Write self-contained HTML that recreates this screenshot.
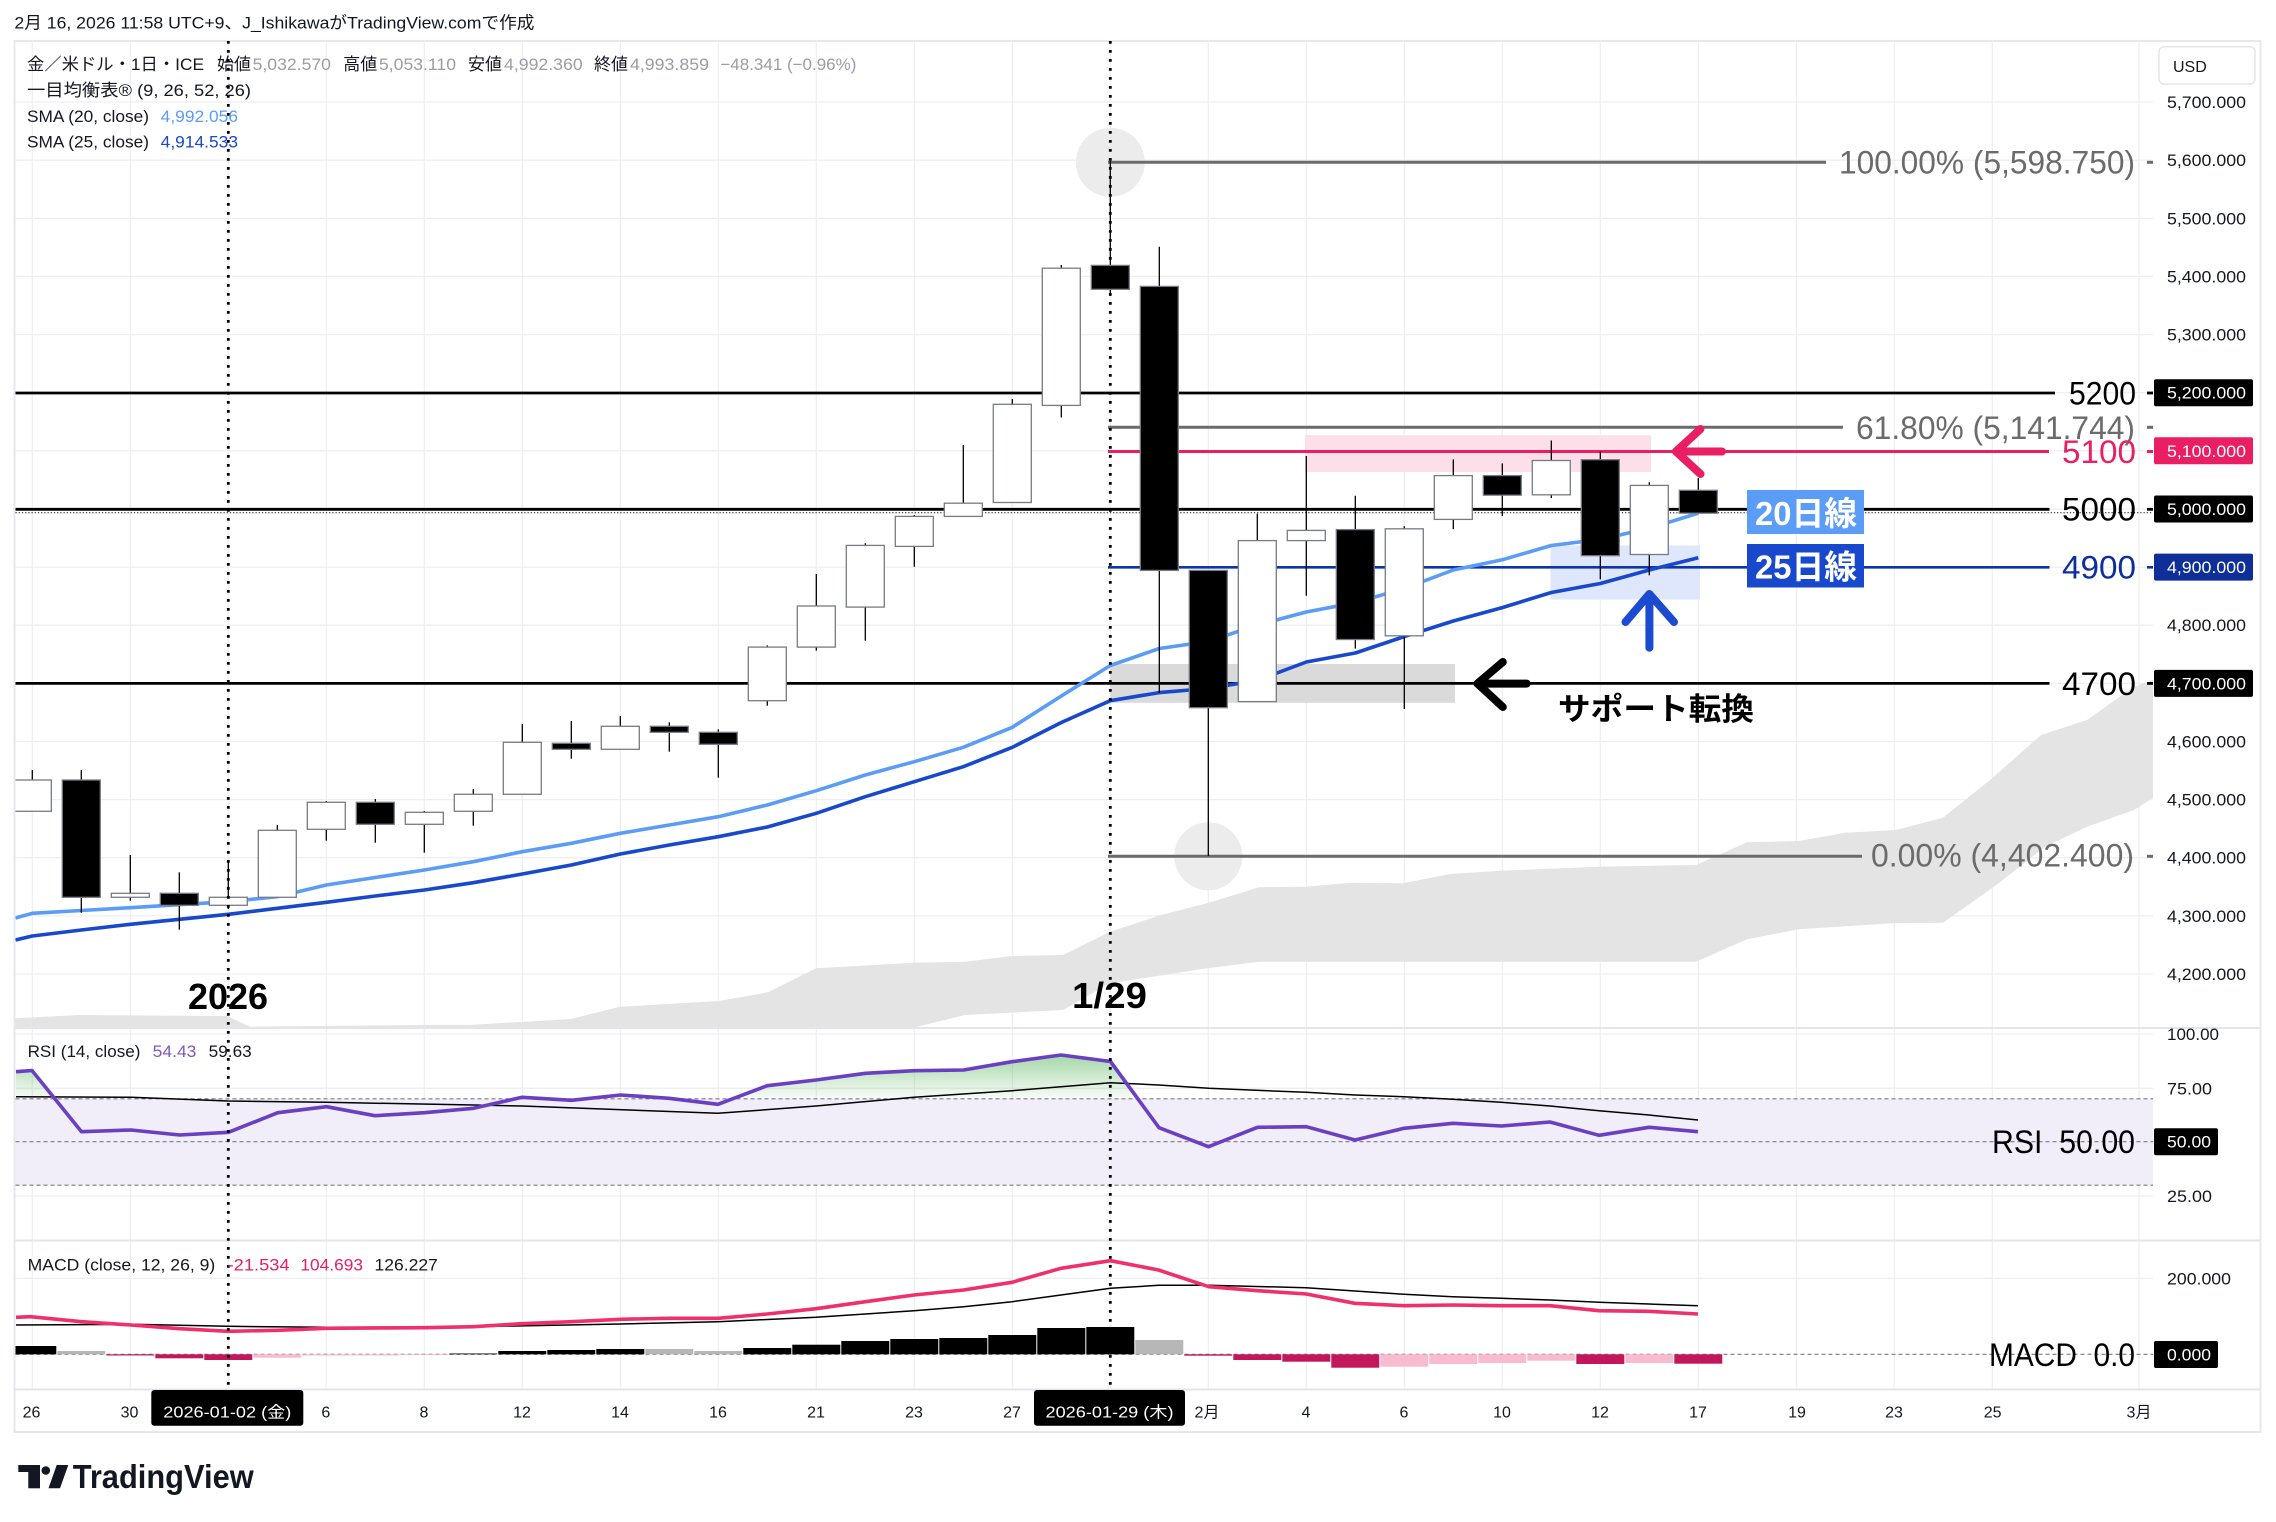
<!DOCTYPE html>
<html><head><meta charset="utf-8"><style>
html,body{margin:0;padding:0;background:#fff;}
svg{display:block;}
text{font-family:"Liberation Sans","Noto Sans CJK JP",sans-serif;}
</style></head><body>
<svg width="2276" height="1522" viewBox="0 0 2276 1522" xmlns="http://www.w3.org/2000/svg">
<defs>
<clipPath id="cm"><rect x="15.5" y="41" width="2137.5" height="986.5"/></clipPath>
<clipPath id="cr"><rect x="15.5" y="1028" width="2137.5" height="212"/></clipPath>
<clipPath id="cg"><rect x="15.5" y="1030" width="2137.5" height="68.8"/></clipPath>
<clipPath id="cd"><rect x="15.5" y="1241" width="2137.5" height="148"/></clipPath>
<linearGradient id="gg" gradientUnits="userSpaceOnUse" x1="0" y1="1050" x2="0" y2="1099">
<stop offset="0" stop-color="#4caf50" stop-opacity="0.55"/><stop offset="1" stop-color="#4caf50" stop-opacity="0.04"/>
</linearGradient>
</defs>
<rect width="2276" height="1522" fill="#fff"/>
<!-- header -->
<text x="14.4" y="28.5" font-size="17" fill="#131722" textLength="520" lengthAdjust="spacingAndGlyphs">2月 16, 2026 11:58 UTC+9、J_IshikawaがTradingView.comで作成</text>
<!-- frame -->
<rect x="14.5" y="41" width="2246" height="1391" fill="none" stroke="#e6e8ee" stroke-width="2"/>
<!-- vertical gridlines -->
<g stroke="#efeff2" stroke-width="1.3">
<line x1="32.3" y1="41" x2="32.3" y2="1389"/><line x1="130.3" y1="41" x2="130.3" y2="1389"/><line x1="228.3" y1="41" x2="228.3" y2="1389"/><line x1="326.3" y1="41" x2="326.3" y2="1389"/><line x1="424.3" y1="41" x2="424.3" y2="1389"/><line x1="522.3" y1="41" x2="522.3" y2="1389"/><line x1="620.3" y1="41" x2="620.3" y2="1389"/><line x1="718.3" y1="41" x2="718.3" y2="1389"/><line x1="816.3" y1="41" x2="816.3" y2="1389"/><line x1="914.3" y1="41" x2="914.3" y2="1389"/><line x1="1012.3" y1="41" x2="1012.3" y2="1389"/><line x1="1110.3" y1="41" x2="1110.3" y2="1389"/><line x1="1208.3" y1="41" x2="1208.3" y2="1389"/><line x1="1306.3" y1="41" x2="1306.3" y2="1389"/><line x1="1404.3" y1="41" x2="1404.3" y2="1389"/><line x1="1502.3" y1="41" x2="1502.3" y2="1389"/><line x1="1600.3" y1="41" x2="1600.3" y2="1389"/><line x1="1698.3" y1="41" x2="1698.3" y2="1389"/><line x1="1796.3" y1="41" x2="1796.3" y2="1389"/><line x1="1894.3" y1="41" x2="1894.3" y2="1389"/><line x1="1992.3" y1="41" x2="1992.3" y2="1389"/><line x1="2139" y1="41" x2="2139" y2="1389"/>
</g>
<!-- horizontal gridlines main -->
<g stroke="#efeff2" stroke-width="1.3">
<line x1="15.5" y1="102" x2="2153" y2="102"/><line x1="15.5" y1="160.2" x2="2153" y2="160.2"/><line x1="15.5" y1="218.3" x2="2153" y2="218.3"/><line x1="15.5" y1="276.4" x2="2153" y2="276.4"/><line x1="15.5" y1="334.6" x2="2153" y2="334.6"/><line x1="15.5" y1="392.7" x2="2153" y2="392.7"/><line x1="15.5" y1="450.8" x2="2153" y2="450.8"/><line x1="15.5" y1="509" x2="2153" y2="509"/><line x1="15.5" y1="567.1" x2="2153" y2="567.1"/><line x1="15.5" y1="625.2" x2="2153" y2="625.2"/><line x1="15.5" y1="683.4" x2="2153" y2="683.4"/><line x1="15.5" y1="741.5" x2="2153" y2="741.5"/><line x1="15.5" y1="799.6" x2="2153" y2="799.6"/><line x1="15.5" y1="857.7" x2="2153" y2="857.7"/><line x1="15.5" y1="915.9" x2="2153" y2="915.9"/><line x1="15.5" y1="974" x2="2153" y2="974"/>
<line x1="15.5" y1="1034" x2="2153" y2="1034"/><line x1="15.5" y1="1088.3" x2="2153" y2="1088.3"/><line x1="15.5" y1="1196" x2="2153" y2="1196"/>
<line x1="15.5" y1="1278.3" x2="2153" y2="1278.3"/>
</g>
<!-- pane separators -->
<g stroke="#e3e5ea" stroke-width="2">
<line x1="15.5" y1="1028" x2="2260" y2="1028"/><line x1="15.5" y1="1240.5" x2="2260" y2="1240.5"/><line x1="15.5" y1="1389.5" x2="2260" y2="1389.5"/>
</g>

<g clip-path="url(#cm)">
<!-- cloud -->
<polygon fill="#e4e4e4" points="15.5,1018.3 79,1015 227,1016 250,1026.7 423.5,1025 469,1025 571,1019 620,1006.7 719,1001 768,992.3 816,968.3 914,962.7 965,961.7 1012,956 1063,955 1110,931.7 1161,915 1207,903.3 1259,887.3 1305,886.7 1352,882.7 1403,883.3 1450,874 1501,870.7 1598.5,866.7 1696,865 1747,842.3 1799,841 1845,832.7 1896,830 1943,817.7 1990,780 2041,735 2087,720 2134,686.7 2153,680 2153,798 2134,810 2087,826.7 2045,846.7 1994,886.7 1943,922.7 1892,923.3 1799,929.3 1747,939.3 1696,961.7 1259,961.7 1207,968.3 1110,983.3 1063,1010 965,1015 914,1027.5 15.5,1027.5"/>
<!-- zones -->
<rect x="1305" y="435.2" width="346" height="36.8" fill="#fcdfe8"/>
<rect x="1550.5" y="545.5" width="149.5" height="54" fill="#dfe7fc"/>
<rect x="1110" y="664" width="345" height="38.8" fill="#dadada"/>
<!-- fib anchor circles -->
<circle cx="1110.3" cy="162.3" r="34.5" fill="#ececec"/>
<circle cx="1208.3" cy="856.3" r="34" fill="#ececec"/>
<!-- fib lines -->
<g stroke="#6b6b6b" stroke-width="3">
<line x1="1108" y1="162.3" x2="1826" y2="162.3"/><line x1="2147" y1="162.3" x2="2153" y2="162.3"/>
<line x1="1108" y1="427.3" x2="1843" y2="427.3"/><line x1="2147" y1="427.3" x2="2153" y2="427.3"/>
<line x1="1108" y1="856.3" x2="1862" y2="856.3"/><line x1="2147" y1="856.3" x2="2153" y2="856.3"/>
</g>
<!-- horizontal price lines -->
<g stroke="#000" stroke-width="2.8">
<line x1="15.5" y1="393" x2="2055" y2="393"/><line x1="2147" y1="393" x2="2153" y2="393"/>
<line x1="15.5" y1="509.3" x2="2049.5" y2="509.3"/><line x1="2147" y1="509.3" x2="2153" y2="509.3"/>
<line x1="15.5" y1="683.4" x2="2049.5" y2="683.4"/><line x1="2147" y1="683.4" x2="2153" y2="683.4"/>
</g>
<line x1="1108" y1="451.5" x2="2049" y2="451.5" stroke="#e91e63" stroke-width="3"/><line x1="2147" y1="451.5" x2="2153" y2="451.5" stroke="#e91e63" stroke-width="3"/>
<line x1="1108" y1="567.3" x2="2049.5" y2="567.3" stroke="#0d35a6" stroke-width="2.6"/><line x1="2147" y1="567.3" x2="2153" y2="567.3" stroke="#0d35a6" stroke-width="2.6"/>
<!-- current price dotted -->
<line x1="15.5" y1="512.8" x2="2153" y2="512.8" stroke="#000" stroke-width="1" stroke-dasharray="1.2 2"/>
<!-- SMA lines -->
<polyline fill="none" stroke="#5b9cf6" stroke-width="3.6" stroke-linejoin="round" points="15.5,918 32.3,913.3 81.3,910.5 130.3,907.7 179.3,904.7 228.3,901.7 277.3,896.7 326.3,885 375.3,877.5 424.3,870 473.3,861.7 522.3,851.7 571.3,843.3 620.3,833.3 669.3,825 718.3,816.7 767.3,805 816.3,790.7 865.3,775 914.3,761.7 963.3,747.3 1012.3,727.3 1061.3,696 1110.3,665.5 1159.3,648.5 1208.3,641.5 1257.3,625 1306.3,612 1355.3,602.7 1404.3,588.4 1453.3,570 1502.3,559.8 1551.3,545.5 1600.3,539.4 1649.3,528.3 1698.3,513.2"/>
<polyline fill="none" stroke="#1848cc" stroke-width="3.6" stroke-linejoin="round" points="15.5,940 32.3,936 81.3,930 130.3,924.3 179.3,919.3 228.3,914.3 277.3,908.3 326.3,902.3 375.3,896 424.3,890 473.3,882.7 522.3,874 571.3,865 620.3,854 669.3,845 718.3,836.7 767.3,827 816.3,813.3 865.3,796.7 914.3,781.7 963.3,766.7 1012.3,747.3 1061.3,722.5 1110.3,700.7 1159.3,692.6 1208.3,688.5 1257.3,680.4 1306.3,662 1355.3,653 1404.3,636.6 1453.3,621 1502.3,607.6 1551.3,592.5 1600.3,583.5 1649.3,570 1698.3,557.8"/>
<!-- wicks -->
<g stroke="#000" stroke-width="1.3">
<line x1="32.3" y1="770" x2="32.3" y2="811.3"/><line x1="81.3" y1="770" x2="81.3" y2="912.7"/><line x1="130.3" y1="855" x2="130.3" y2="900.7"/><line x1="179.3" y1="872.3" x2="179.3" y2="929.7"/><line x1="228.3" y1="860" x2="228.3" y2="909"/><line x1="277.3" y1="825" x2="277.3" y2="897.3"/><line x1="326.3" y1="801" x2="326.3" y2="840.7"/><line x1="375.3" y1="799" x2="375.3" y2="842.7"/><line x1="424.3" y1="811" x2="424.3" y2="852.7"/><line x1="473.3" y1="789" x2="473.3" y2="825.7"/><line x1="522.3" y1="724" x2="522.3" y2="794.3"/><line x1="571.3" y1="721" x2="571.3" y2="758.7"/><line x1="620.3" y1="716" x2="620.3" y2="749.3"/><line x1="669.3" y1="722.3" x2="669.3" y2="751.7"/><line x1="718.3" y1="729.3" x2="718.3" y2="777.7"/><line x1="767.3" y1="645.4" x2="767.3" y2="705.7"/><line x1="816.3" y1="574" x2="816.3" y2="650.7"/><line x1="865.3" y1="543.2" x2="865.3" y2="640.7"/><line x1="914.3" y1="515" x2="914.3" y2="566.8"/><line x1="963.3" y1="445" x2="963.3" y2="516.4"/><line x1="1012.3" y1="399" x2="1012.3" y2="502.5"/><line x1="1061.3" y1="265" x2="1061.3" y2="417.5"/><line x1="1110.3" y1="161" x2="1110.3" y2="296"/><line x1="1159.3" y1="246.8" x2="1159.3" y2="693"/><line x1="1208.3" y1="570" x2="1208.3" y2="856"/><line x1="1257.3" y1="513.6" x2="1257.3" y2="701.6"/><line x1="1306.3" y1="456" x2="1306.3" y2="595.8"/><line x1="1355.3" y1="495.7" x2="1355.3" y2="648.5"/><line x1="1404.3" y1="526.3" x2="1404.3" y2="709"/><line x1="1453.3" y1="459.3" x2="1453.3" y2="529.2"/><line x1="1502.3" y1="463.4" x2="1502.3" y2="516.1"/><line x1="1551.3" y1="440.5" x2="1551.3" y2="498.1"/><line x1="1600.3" y1="451.5" x2="1600.3" y2="579.4"/><line x1="1649.3" y1="482.2" x2="1649.3" y2="575.3"/><line x1="1698.3" y1="478" x2="1698.3" y2="513.2"/>
</g>
<!-- bodies -->
<g stroke="#787b86" stroke-width="1.3">
<rect x="13.3" y="780" width="38" height="31.3" fill="#fff"/>
<rect x="62.3" y="780" width="38" height="117.3" fill="#000"/>
<rect x="111.3" y="893.3" width="38" height="4" fill="#fff"/>
<rect x="160.3" y="893.3" width="38" height="12" fill="#000"/>
<rect x="209.3" y="897.3" width="38" height="8" fill="#fff"/>
<rect x="258.3" y="830.3" width="38" height="67" fill="#fff"/>
<rect x="307.3" y="802.3" width="38" height="27" fill="#fff"/>
<rect x="356.3" y="802.3" width="38" height="22" fill="#000"/>
<rect x="405.3" y="812.3" width="38" height="12" fill="#fff"/>
<rect x="454.3" y="794.3" width="38" height="17" fill="#fff"/>
<rect x="503.3" y="742.3" width="38" height="52" fill="#fff"/>
<rect x="552.3" y="743.3" width="38" height="6" fill="#000"/>
<rect x="601.3" y="726.3" width="38" height="23" fill="#fff"/>
<rect x="650.3" y="726.3" width="38" height="6" fill="#000"/>
<rect x="699.3" y="732.3" width="38" height="12" fill="#000"/>
<rect x="748.3" y="647.1" width="38" height="53.6" fill="#fff"/>
<rect x="797.3" y="606" width="38" height="41.1" fill="#fff"/>
<rect x="846.3" y="545.4" width="38" height="61.7" fill="#fff"/>
<rect x="895.3" y="516.4" width="38" height="30" fill="#fff"/>
<rect x="944.3" y="503.2" width="38" height="13.2" fill="#fff"/>
<rect x="993.3" y="404.3" width="38" height="98.2" fill="#fff"/>
<rect x="1042.3" y="268.2" width="38" height="137.2" fill="#fff"/>
<rect x="1091.3" y="265.4" width="38" height="23.9" fill="#000"/>
<rect x="1140.3" y="286.4" width="38" height="284" fill="#000"/>
<rect x="1189.3" y="570.4" width="38" height="137.3" fill="#000"/>
<rect x="1238.3" y="540.6" width="38" height="161" fill="#fff"/>
<rect x="1287.3" y="530.4" width="38" height="10.2" fill="#fff"/>
<rect x="1336.3" y="529.6" width="38" height="109.9" fill="#000"/>
<rect x="1385.3" y="528.8" width="38" height="107" fill="#fff"/>
<rect x="1434.3" y="475.6" width="38" height="43.8" fill="#fff"/>
<rect x="1483.3" y="475.6" width="38" height="19.6" fill="#000"/>
<rect x="1532.3" y="460.5" width="38" height="34.3" fill="#fff"/>
<rect x="1581.3" y="459.7" width="38" height="96" fill="#000"/>
<rect x="1630.3" y="485.4" width="38" height="69.1" fill="#fff"/>
<rect x="1679.3" y="490.3" width="38" height="22.9" fill="#000"/>
</g>
<!-- arrows -->
<g fill="none" stroke-width="8" stroke-linecap="round" stroke-linejoin="round">
<polyline points="1700.5,429 1676,451.5 1700.5,474" stroke="#e91e63"/><line x1="1677" y1="451.5" x2="1722" y2="451.5" stroke="#e91e63"/>
<polyline points="1625.5,622 1649.4,594 1674,622" stroke="#1a4bd1"/><line x1="1649.4" y1="595" x2="1649.4" y2="647.7" stroke="#1a4bd1"/>
<polyline points="1502.8,662 1477.5,683.6 1502.8,707" stroke="#000"/><line x1="1478.5" y1="683.6" x2="1526.7" y2="683.6" stroke="#000"/>
</g>
</g>

<!-- labels in main pane -->
<g font-size="32">
<text x="1839" y="173.5" fill="#6b6b6b" textLength="296" lengthAdjust="spacingAndGlyphs">100.00% (5,598.750)</text>
<text x="1856" y="438.8" fill="#6b6b6b" textLength="279" lengthAdjust="spacingAndGlyphs">61.80% (5,141.744)</text>
<text x="1871" y="866.5" fill="#6b6b6b" textLength="263" lengthAdjust="spacingAndGlyphs">0.00% (4,402.400)</text>
<text x="2069" y="404.5" fill="#000" textLength="67" lengthAdjust="spacingAndGlyphs">5200</text>
<text x="2062" y="463" fill="#e91e63" textLength="74" lengthAdjust="spacingAndGlyphs">5100</text>
<text x="2062" y="520.5" fill="#000" textLength="74" lengthAdjust="spacingAndGlyphs">5000</text>
<text x="2062" y="578.5" fill="#0c2f9a" textLength="74" lengthAdjust="spacingAndGlyphs">4900</text>
<text x="2062" y="695" fill="#000" textLength="74" lengthAdjust="spacingAndGlyphs">4700</text>
</g>
<rect x="1747" y="490" width="117" height="44" fill="#5b9cf6"/>
<text x="1755" y="525" font-size="33" font-weight="bold" fill="#fff" textLength="102" lengthAdjust="spacingAndGlyphs">20日線</text>
<rect x="1747" y="544" width="117" height="43.5" fill="#1848cc"/>
<text x="1755" y="578.5" font-size="33" font-weight="bold" fill="#fff" textLength="102" lengthAdjust="spacingAndGlyphs">25日線</text>
<text x="1558" y="720" font-size="31" font-weight="bold" fill="#000" textLength="196" lengthAdjust="spacingAndGlyphs">サポート転換</text>
<text x="188" y="1009" font-size="36" font-weight="bold" fill="#000" textLength="80" lengthAdjust="spacingAndGlyphs">2026</text>
<text x="1072" y="1008" font-size="36" font-weight="bold" fill="#000" textLength="75" lengthAdjust="spacingAndGlyphs">1/29</text>

<!-- RSI pane -->
<g clip-path="url(#cr)">
<rect x="15.5" y="1098.8" width="2137.5" height="86.4" fill="#f1eef9"/>
<g stroke="#787b86" stroke-width="1.2" stroke-dasharray="4 3">
<line x1="15.5" y1="1098.8" x2="2153" y2="1098.8"/><line x1="15.5" y1="1141.7" x2="2153" y2="1141.7"/><line x1="15.5" y1="1185.2" x2="2153" y2="1185.2"/>
</g>
<polygon clip-path="url(#cg)" fill="url(#gg)" points="16,1071.7 32,1070.5 81.5,1131.7 131,1130 179.6,1135 228.4,1132.3 277.8,1112.7 326.5,1106.7 375,1115.7 424.7,1112.7 473.5,1108.3 522,1097.3 571.6,1100.3 620.4,1095 669,1098.3 718,1104.3 767.3,1085.7 816,1080 865.5,1073.3 914,1070.7 963.6,1070 1012,1061.7 1061,1055 1110.5,1061.5 1159,1127.7 1208.5,1146.7 1257.5,1127.3 1306.3,1126.7 1355,1140 1404,1128.3 1453,1123.3 1501.5,1126 1550,1122 1599,1135.3 1649,1127.3 1698,1131.7 1698,1098.8 16,1098.8"/>
<polyline fill="none" stroke="#000" stroke-width="1.5" points="16,1096.7 131,1097.3 228,1101 326.5,1102.3 473.5,1105 522,1106 718,1113.3 816,1106 914,1097.3 1012,1090.7 1061,1086.7 1110.5,1082.7 1158.5,1085 1208.8,1088.3 1306,1092.3 1355,1095 1404,1096.7 1452.6,1099.3 1501,1102.3 1550,1106 1599,1110.7 1649,1115 1698,1120"/>
<polyline fill="none" stroke="#6a3fc1" stroke-width="3.6" stroke-linejoin="round" points="16,1071.7 32,1070.5 81.5,1131.7 131,1130 179.6,1135 228.4,1132.3 277.8,1112.7 326.5,1106.7 375,1115.7 424.7,1112.7 473.5,1108.3 522,1097.3 571.6,1100.3 620.4,1095 669,1098.3 718,1104.3 767.3,1085.7 816,1080 865.5,1073.3 914,1070.7 963.6,1070 1012,1061.7 1061,1055 1110.5,1061.5 1159,1127.7 1208.5,1146.7 1257.5,1127.3 1306.3,1126.7 1355,1140 1404,1128.3 1453,1123.3 1501.5,1126 1550,1122 1599,1135.3 1649,1127.3 1698,1131.7"/>
</g>
<text x="1992" y="1153" font-size="32" fill="#000" textLength="143" lengthAdjust="spacingAndGlyphs">RSI&#160;&#160;50.00</text>

<!-- MACD pane -->
<g clip-path="url(#cd)">
<line x1="15.5" y1="1354.3" x2="2153" y2="1354.3" stroke="#787b86" stroke-width="1.2" stroke-dasharray="4 3"/>
<g>
<rect x="8.3" y="1346" width="48" height="8.3" fill="#000"/>
<rect x="57.3" y="1351" width="48" height="3.3" fill="#b7b7b7"/>
<rect x="106.3" y="1354.3" width="48" height="1.2" fill="#c2185b"/>
<rect x="155.3" y="1354.3" width="48" height="4" fill="#c2185b"/>
<rect x="204.3" y="1354.3" width="48" height="5.7" fill="#c2185b"/>
<rect x="253.3" y="1354.3" width="48" height="3.4" fill="#f8bbd0"/>
<rect x="302.3" y="1354.3" width="48" height="1.2" fill="#f8bbd0"/>
<rect x="351.3" y="1354.3" width="48" height="1.2" fill="#f8bbd0"/>
<rect x="400.3" y="1354.3" width="48" height="0.8" fill="#f8bbd0"/>
<rect x="449.3" y="1353.5" width="48" height="0.8" fill="#000"/>
<rect x="498.3" y="1351" width="48" height="3.3" fill="#000"/>
<rect x="547.3" y="1350" width="48" height="4.3" fill="#000"/>
<rect x="596.3" y="1349" width="48" height="5.3" fill="#000"/>
<rect x="645.3" y="1349" width="48" height="5.3" fill="#b7b7b7"/>
<rect x="694.3" y="1351" width="48" height="3.3" fill="#b7b7b7"/>
<rect x="743.3" y="1348" width="48" height="6.3" fill="#000"/>
<rect x="792.3" y="1344.7" width="48" height="9.6" fill="#000"/>
<rect x="841.3" y="1341" width="48" height="13.3" fill="#000"/>
<rect x="890.3" y="1339" width="48" height="15.3" fill="#000"/>
<rect x="939.3" y="1338" width="48" height="16.3" fill="#000"/>
<rect x="988.3" y="1335" width="48" height="19.3" fill="#000"/>
<rect x="1037.3" y="1328" width="48" height="26.3" fill="#000"/>
<rect x="1086.3" y="1327" width="48" height="27.3" fill="#000"/>
<rect x="1135.3" y="1340" width="48" height="14.3" fill="#b7b7b7"/>
<rect x="1184.3" y="1354.3" width="48" height="1.4" fill="#c2185b"/>
<rect x="1233.3" y="1354.3" width="48" height="5.7" fill="#c2185b"/>
<rect x="1282.3" y="1354.3" width="48" height="7.4" fill="#c2185b"/>
<rect x="1331.3" y="1354.3" width="48" height="13.4" fill="#c2185b"/>
<rect x="1380.3" y="1354.3" width="48" height="12.4" fill="#f8bbd0"/>
<rect x="1429.3" y="1354.3" width="48" height="9.7" fill="#f8bbd0"/>
<rect x="1478.3" y="1354.3" width="48" height="8.7" fill="#f8bbd0"/>
<rect x="1527.3" y="1354.3" width="48" height="6.4" fill="#f8bbd0"/>
<rect x="1576.3" y="1354.3" width="48" height="9.7" fill="#c2185b"/>
<rect x="1625.3" y="1354.3" width="48" height="8.7" fill="#f8bbd0"/>
<rect x="1674.3" y="1354.3" width="48" height="9.4" fill="#c2185b"/>
</g>
<polyline fill="none" stroke="#000" stroke-width="1.5" points="16,1325 131,1324.3 228,1326.3 326.5,1327.3 473.5,1326.7 620,1324 718,1321.7 816,1317.3 914,1310.7 963.6,1306.7 1012,1301.7 1061,1295 1110.5,1288.3 1158.5,1285.3 1208.8,1285.3 1306,1287.7 1355,1291 1404,1294.3 1452.6,1296.7 1501,1298.3 1550,1300 1599,1302.3 1649,1304 1698,1305.7"/>
<polyline fill="none" stroke="#f0306c" stroke-width="3.6" stroke-linejoin="round" points="16,1317.3 30.5,1316.7 81.5,1321.7 131,1325 179.6,1328.7 228.4,1331.3 277.8,1330.3 326.5,1328.3 424.7,1327.7 473.5,1326.7 522,1323.7 571.6,1321.7 620.4,1319.3 669,1318.3 718,1318.3 767.3,1314 816,1308.7 865.5,1301.7 914,1295 963.6,1290 1012,1282.3 1061,1268.3 1110.5,1260.7 1158.5,1270 1208.8,1286.7 1257.5,1290.7 1306.3,1294 1355,1303.3 1403.8,1305.7 1452.6,1305 1501,1305.7 1550,1305.7 1599,1310.7 1649,1311.3 1698,1314"/>
</g>
<text x="1989" y="1366" font-size="32" fill="#000" textLength="146" lengthAdjust="spacingAndGlyphs">MACD&#160;&#160;0.0</text>

<!-- dotted vertical lines -->
<g stroke="#000" stroke-width="2.8" stroke-dasharray="2.8 6.2">
<line x1="228.3" y1="41" x2="228.3" y2="1389"/>
<line x1="1110.3" y1="41" x2="1110.3" y2="1389"/>
</g>

<!-- legends -->
<g font-size="17" fill="#131722">
<text x="27" y="70" textLength="177" lengthAdjust="spacingAndGlyphs">金／米ドル・1日・ICE</text>
<text x="217" y="70">始値</text><text x="252.6" y="70" fill="#9a9da6" textLength="78.4" lengthAdjust="spacingAndGlyphs">5,032.570</text>
<text x="343.3" y="70">高値</text><text x="379" y="70" fill="#9a9da6" textLength="77" lengthAdjust="spacingAndGlyphs">5,053.110</text>
<text x="468" y="70">安値</text><text x="504" y="70" fill="#9a9da6" textLength="78.7" lengthAdjust="spacingAndGlyphs">4,992.360</text>
<text x="594" y="70">終値</text><text x="630" y="70" fill="#9a9da6" textLength="79" lengthAdjust="spacingAndGlyphs">4,993.859</text>
<text x="720.4" y="70" fill="#9a9da6" textLength="136" lengthAdjust="spacingAndGlyphs">−48.341 (−0.96%)</text>
<text x="27" y="96" textLength="224" lengthAdjust="spacingAndGlyphs">一目均衡表® (9, 26, 52, 26)</text>
<text x="27" y="122" textLength="122" lengthAdjust="spacingAndGlyphs">SMA (20, close)</text><text x="160.7" y="122" fill="#5b9cf6" textLength="77.3" lengthAdjust="spacingAndGlyphs">4,992.056</text>
<text x="27" y="147.5" textLength="122" lengthAdjust="spacingAndGlyphs">SMA (25, close)</text><text x="160.7" y="147.5" fill="#1848cc" textLength="77.3" lengthAdjust="spacingAndGlyphs">4,914.533</text>
<text x="27.6" y="1057" textLength="112.8" lengthAdjust="spacingAndGlyphs">RSI (14, close)</text><text x="152.7" y="1057" fill="#7e57c2" textLength="43.7" lengthAdjust="spacingAndGlyphs">54.43</text><text x="208.7" y="1057" textLength="43" lengthAdjust="spacingAndGlyphs">59.63</text>
<text x="27.6" y="1270.5" textLength="187.7" lengthAdjust="spacingAndGlyphs">MACD (close, 12, 26, 9)</text><text x="227.6" y="1270.5" fill="#e91e63" textLength="62" lengthAdjust="spacingAndGlyphs">-21.534</text><text x="300.4" y="1270.5" fill="#e91e63" textLength="62.6" lengthAdjust="spacingAndGlyphs">104.693</text><text x="374.5" y="1270.5" textLength="63.3" lengthAdjust="spacingAndGlyphs">126.227</text>
</g>

<!-- price axis -->
<rect x="2159" y="46.7" width="96" height="37.3" rx="5" fill="#fff" stroke="#e3e5ea" stroke-width="1.5"/>
<text x="2173" y="72" font-size="16" fill="#131722">USD</text>
<g font-size="17" fill="#131722">
<text x="2167" y="108" textLength="79" lengthAdjust="spacingAndGlyphs">5,700.000</text>
<text x="2167" y="166.2" textLength="79" lengthAdjust="spacingAndGlyphs">5,600.000</text>
<text x="2167" y="224.3" textLength="79" lengthAdjust="spacingAndGlyphs">5,500.000</text>
<text x="2167" y="282.4" textLength="79" lengthAdjust="spacingAndGlyphs">5,400.000</text>
<text x="2167" y="340.6" textLength="79" lengthAdjust="spacingAndGlyphs">5,300.000</text>
<text x="2167" y="631.2" textLength="79" lengthAdjust="spacingAndGlyphs">4,800.000</text>
<text x="2167" y="747.5" textLength="79" lengthAdjust="spacingAndGlyphs">4,600.000</text>
<text x="2167" y="805.6" textLength="79" lengthAdjust="spacingAndGlyphs">4,500.000</text>
<text x="2167" y="863.7" textLength="79" lengthAdjust="spacingAndGlyphs">4,400.000</text>
<text x="2167" y="921.9" textLength="79" lengthAdjust="spacingAndGlyphs">4,300.000</text>
<text x="2167" y="980" textLength="79" lengthAdjust="spacingAndGlyphs">4,200.000</text>
<text x="2167" y="1040" textLength="52" lengthAdjust="spacingAndGlyphs">100.00</text>
<text x="2167" y="1094.3" textLength="45" lengthAdjust="spacingAndGlyphs">75.00</text>
<text x="2167" y="1202" textLength="45" lengthAdjust="spacingAndGlyphs">25.00</text>
<text x="2167" y="1284.5" textLength="64" lengthAdjust="spacingAndGlyphs">200.000</text>
</g>
<rect x="2154" y="379.2" width="99" height="27" rx="2" fill="#000"/>
<rect x="2154" y="437.3" width="99" height="27" rx="2" fill="#e91e63"/>
<rect x="2154" y="495.5" width="99" height="27" rx="2" fill="#000"/>
<rect x="2154" y="553.6" width="99" height="27" rx="2" fill="#0d2f97"/>
<rect x="2154" y="669.9" width="99" height="27" rx="2" fill="#000"/>
<rect x="2154" y="1128.2" width="64" height="27" rx="2" fill="#000"/>
<rect x="2154" y="1341" width="64" height="27" rx="2" fill="#000"/>
<g font-size="17" fill="#fff">
<text x="2167" y="398.7" textLength="79" lengthAdjust="spacingAndGlyphs">5,200.000</text>
<text x="2167" y="456.8" textLength="79" lengthAdjust="spacingAndGlyphs">5,100.000</text>
<text x="2167" y="515" textLength="79" lengthAdjust="spacingAndGlyphs">5,000.000</text>
<text x="2167" y="573.1" textLength="79" lengthAdjust="spacingAndGlyphs">4,900.000</text>
<text x="2167" y="689.4" textLength="79" lengthAdjust="spacingAndGlyphs">4,700.000</text>
<text x="2167" y="1147.7" textLength="44" lengthAdjust="spacingAndGlyphs">50.00</text>
<text x="2167" y="1360.5" textLength="44" lengthAdjust="spacingAndGlyphs">0.000</text>
</g>

<!-- x axis -->
<g font-size="16" fill="#131722" text-anchor="middle">
<text x="31.5" y="1417.5">26</text>
<text x="129.5" y="1417.5">30</text>
<text x="325.8" y="1417.5">6</text>
<text x="424" y="1417.5">8</text>
<text x="522" y="1417.5">12</text>
<text x="620" y="1417.5">14</text>
<text x="718" y="1417.5">16</text>
<text x="816" y="1417.5">21</text>
<text x="914" y="1417.5">23</text>
<text x="1012" y="1417.5">27</text>
<text x="1207" y="1417.5">2月</text>
<text x="1306" y="1417.5">4</text>
<text x="1404" y="1417.5">6</text>
<text x="1502" y="1417.5">10</text>
<text x="1600" y="1417.5">12</text>
<text x="1698" y="1417.5">17</text>
<text x="1797" y="1417.5">19</text>
<text x="1894" y="1417.5">23</text>
<text x="1992.6" y="1417.5">25</text>
<text x="2139" y="1417.5">3月</text>
</g>
<rect x="151.3" y="1390" width="152" height="35.7" rx="3" fill="#000"/>
<rect x="1034" y="1390" width="151" height="35.7" rx="3" fill="#000"/>
<g font-size="16" fill="#fff" text-anchor="middle">
<text x="227.3" y="1417.5" textLength="128" lengthAdjust="spacingAndGlyphs">2026-01-02 (金)</text>
<text x="1109.5" y="1417.5" textLength="128" lengthAdjust="spacingAndGlyphs">2026-01-29 (木)</text>
</g>

<!-- TradingView logo -->
<g fill="#131722">
<rect x="18.3" y="1465" width="21.7" height="7" />
<rect x="28.3" y="1465" width="11.7" height="23.3"/>
<circle cx="45.8" cy="1470.5" r="4.3"/>
<polygon points="56.7,1465 68.3,1465 60,1488.3 48.5,1488.3"/>
</g>
<text x="72.7" y="1488" font-size="33" font-weight="bold" fill="#131722" textLength="181" lengthAdjust="spacingAndGlyphs">TradingView</text>
</svg>
</body></html>
